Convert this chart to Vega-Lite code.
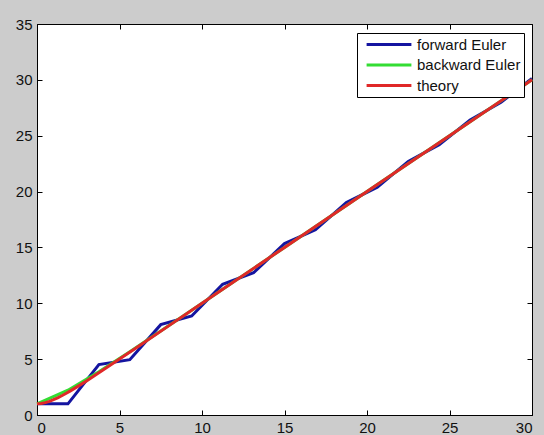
{
  "$schema": "https://vega.github.io/schema/vega-lite/v6.json",
  "autosize": "none",
  "width": 495,
  "height": 391,
  "padding": {"left": 37, "top": 24, "right": 12, "bottom": 20},
  "background": "#cccccc",
  "view": {"fill": "white", "stroke": "black", "strokeWidth": 1},
  "config": {
    "font": "Liberation Sans",
    "axis": {
      "grid": false,
      "domainColor": "black",
      "tickColor": "black",
      "tickSize": -5,
      "labelPadding": 10,
      "labelFont": "Liberation Sans",
      "labelFontSize": 15,
      "labelColor": "#111111",
      "title": null
    },
    "legend": {
      "orient": "none",
      "legendX": 320,
      "legendY": 9,
      "fillColor": "white",
      "strokeColor": "black",
      "padding": 3,
      "symbolType": "M-3.2,0H3.2",
      "symbolStrokeWidth": 3,
      "symbolSize": 196,
      "symbolOffset": 20.5,
      "labelFont": "Liberation Sans",
      "labelFontSize": 15,
      "labelColor": "#111111",
      "labelOffset": 19.5,
      "rowPadding": 3.5,
      "title": null
    }
  },
  "datasets": {
    "fwd": [
      {"t": 0, "y": 1, "series": "forward Euler"},
      {"t": 1.875, "y": 1, "series": "forward Euler"},
      {"t": 3.75, "y": 4.5156, "series": "forward Euler"},
      {"t": 5.625, "y": 4.9551, "series": "forward Euler"},
      {"t": 7.5, "y": 8.0862, "series": "forward Euler"},
      {"t": 9.375, "y": 8.8621, "series": "forward Euler"},
      {"t": 11.25, "y": 11.6988, "series": "forward Euler"},
      {"t": 13.125, "y": 12.7323, "series": "forward Euler"},
      {"t": 15, "y": 15.3436, "series": "forward Euler"},
      {"t": 16.875, "y": 16.5743, "series": "forward Euler"},
      {"t": 18.75, "y": 19.0131, "series": "forward Euler"},
      {"t": 20.625, "y": 20.3948, "series": "forward Euler"},
      {"t": 22.5, "y": 22.7014, "series": "forward Euler"},
      {"t": 24.375, "y": 24.1988, "series": "forward Euler"},
      {"t": 26.25, "y": 26.4042, "series": "forward Euler"},
      {"t": 28.125, "y": 27.9901, "series": "forward Euler"},
      {"t": 30, "y": 30.1181, "series": "forward Euler"}
    ],
    "bwd": [
      {"t": 0, "y": 1, "series": "backward Euler"},
      {"t": 1.875, "y": 2.2228, "series": "backward Euler"},
      {"t": 3.75, "y": 3.871, "series": "backward Euler"},
      {"t": 5.625, "y": 5.6671, "series": "backward Euler"},
      {"t": 7.5, "y": 7.5146, "series": "backward Euler"},
      {"t": 9.375, "y": 9.3801, "series": "backward Euler"},
      {"t": 11.25, "y": 11.2518, "series": "backward Euler"},
      {"t": 13.125, "y": 13.1256, "series": "backward Euler"},
      {"t": 15, "y": 15.0002, "series": "backward Euler"},
      {"t": 20.625, "y": 20.625, "series": "backward Euler"},
      {"t": 26.25, "y": 26.25, "series": "backward Euler"},
      {"t": 30, "y": 30, "series": "backward Euler"}
    ],
    "th": [
      {"t": 0, "y": 1, "series": "theory"},
      {"t": 0.25, "y": 1.0288, "series": "theory"},
      {"t": 0.5, "y": 1.1065, "series": "theory"},
      {"t": 0.75, "y": 1.2224, "series": "theory"},
      {"t": 1, "y": 1.3679, "series": "theory"},
      {"t": 1.25, "y": 1.5365, "series": "theory"},
      {"t": 1.5, "y": 1.7231, "series": "theory"},
      {"t": 1.75, "y": 1.9238, "series": "theory"},
      {"t": 2, "y": 2.1353, "series": "theory"},
      {"t": 2.5, "y": 2.5821, "series": "theory"},
      {"t": 3, "y": 3.0498, "series": "theory"},
      {"t": 3.5, "y": 3.5302, "series": "theory"},
      {"t": 4, "y": 4.0183, "series": "theory"},
      {"t": 5, "y": 5.0067, "series": "theory"},
      {"t": 6, "y": 6.0025, "series": "theory"},
      {"t": 8, "y": 8.0003, "series": "theory"},
      {"t": 10, "y": 10, "series": "theory"},
      {"t": 15, "y": 15, "series": "theory"},
      {"t": 20, "y": 20, "series": "theory"},
      {"t": 25, "y": 25, "series": "theory"},
      {"t": 30, "y": 30, "series": "theory"}
    ]
  },
  "layer": [
    {
      "data": {"name": "fwd"},
      "mark": {"type": "line", "strokeWidth": 3},
      "encoding": {
        "x": {"field": "t", "type": "quantitative", "scale": {"domain": [0, 30], "nice": false}, "axis": {"orient": "bottom", "values": [0, 5, 10, 15, 20, 25, 30]}},
        "y": {"field": "y", "type": "quantitative", "scale": {"domain": [0, 35], "nice": false}, "axis": {"orient": "left", "values": [0, 5, 10, 15, 20, 25, 30, 35]}},
        "color": {"field": "series", "type": "nominal", "scale": {"domain": ["forward Euler", "backward Euler", "theory"], "range": ["#1414a0", "#33dd33", "#e02828"]}, "legend": {}}
      }
    },
    {
      "data": {"name": "bwd"},
      "mark": {"type": "line", "strokeWidth": 3},
      "encoding": {
        "x": {"field": "t", "type": "quantitative", "axis": null},
        "y": {"field": "y", "type": "quantitative", "axis": null},
        "color": {"field": "series", "type": "nominal"}
      }
    },
    {
      "data": {"name": "th"},
      "mark": {"type": "line", "strokeWidth": 3},
      "encoding": {
        "x": {"field": "t", "type": "quantitative", "axis": {"orient": "top", "labels": false, "domain": false, "values": [0, 5, 10, 15, 20, 25, 30]}},
        "y": {"field": "y", "type": "quantitative", "axis": {"orient": "right", "labels": false, "domain": false, "values": [0, 5, 10, 15, 20, 25, 30, 35]}},
        "color": {"field": "series", "type": "nominal"}
      }
    }
  ],
  "resolve": {"axis": {"x": "independent", "y": "independent"}}
}
